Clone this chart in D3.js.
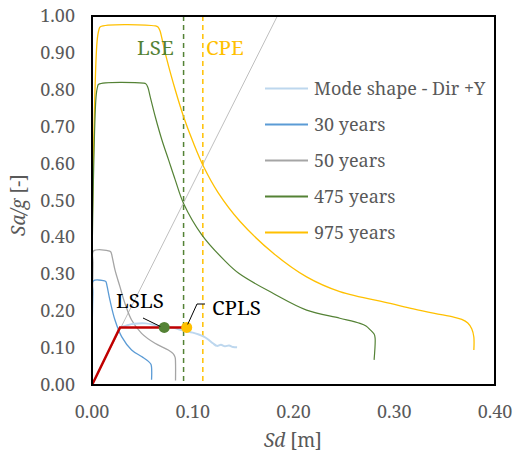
<!DOCTYPE html>
<html>
<head>
<meta charset="utf-8">
<script src="https://cdn.jsdelivr.net/npm/d3@7"></script>
<style>
  body { margin: 0; background: #fff; }
  svg text { font-family: "Noto Serif", "DejaVu Serif", "Liberation Serif", serif; }
</style>
</head>
<body>
<svg id="chart" width="515" height="455"></svg>
<script>
// data: [Sd (m), Sa/g]
const modeShape = [[0.028,0.156],[0.033,0.160],[0.039,0.165],[0.046,0.167],[0.053,0.167],[0.060,0.164],
  [0.066,0.160],[0.073,0.158],[0.081,0.155],[0.090,0.148],[0.100,0.142],[0.106,0.137],[0.111,0.131],
  [0.116,0.122],[0.120,0.113],[0.124,0.106],[0.128,0.109],[0.132,0.105],[0.136,0.107],[0.140,0.103],[0.144,0.102]];
const years30 = [[0,0.11],[0.0008,0.250],[0.0012,0.282],[0.0125,0.282],[0.0138,0.280],[0.0148,0.270],[0.0178,0.230],
  [0.0228,0.176],[0.0294,0.131],[0.0393,0.095],[0.0492,0.077],[0.0560,0.064],[0.0585,0.056],[0.0591,0.048],
  [0.0591,0.014]];
const years50 = [[0,0.14],[0.001,0.330],[0.0015,0.363],[0.0175,0.363],[0.0188,0.360],[0.0200,0.348],[0.0228,0.312],
  [0.0278,0.266],[0.0327,0.221],[0.0393,0.176],[0.0492,0.140],[0.0625,0.113],[0.0757,0.095],[0.0805,0.085],
  [0.0825,0.075],[0.0829,0.060],[0.0829,0.012]];
const years475 = [[0,0.33],[0.004,0.78],[0.0055,0.808],[0.0066,0.815],[0.051,0.818],[0.0535,0.816],[0.0555,0.806],
  [0.0578,0.781],[0.0628,0.727],[0.0694,0.664],[0.076,0.610],[0.0826,0.556],[0.0909,0.492],[0.109,0.407],
  [0.131,0.339],[0.146,0.302],[0.180,0.248],[0.213,0.203],[0.246,0.181],[0.266,0.167],[0.272,0.160],
  [0.276,0.150],[0.280,0.138],[0.281,0.127],[0.280,0.068]];
const years975 = [[0,0.40],[0.005,0.93],[0.0068,0.962],[0.0083,0.971],[0.063,0.973],[0.0655,0.970],[0.0675,0.960],
  [0.069,0.944],[0.0744,0.881],[0.0826,0.800],[0.0909,0.727],[0.1008,0.655],[0.1107,0.592],[0.125,0.522],
  [0.147,0.443],[0.180,0.357],[0.213,0.293],[0.246,0.253],[0.296,0.221],[0.319,0.206],[0.340,0.194],
  [0.359,0.184],[0.367,0.178],[0.373,0.168],[0.377,0.152],[0.379,0.130],[0.379,0.095]];
const periodLine = [[0,0],[0.184,1.0]];
const bilinear = [[0,0],[0.0278,0.156],[0.094,0.156]];
const limitStates = [{name:"LSLS", sd:0.0717, sa:0.156}, {name:"CPLS", sd:0.094, sa:0.156}];
const demandLines = [{name:"LSE", sd:0.0909}, {name:"CPE", sd:0.110}];
const legendNames = ["Mode shape - Dir +Y","30 years","50 years","475 years","975 years"];
const xTicks = [0,0.1,0.2,0.3,0.4];
const yTicks = [0,0.1,0.2,0.3,0.4,0.5,0.6,0.7,0.8,0.9,1.0];

const svg = d3.select("#chart");
const x = d3.scaleLinear().domain([0,0.4]).range([92,495]);
const y = d3.scaleLinear().domain([0,1]).range([385,16]);
const line = d3.line().x(d => x(d[0])).y(d => y(d[1])).curve(d3.curveCatmullRom.alpha(0.5));

const colors = {mode:"#BDD7EE", y30:"#5B9BD5", y50:"#A5A5A5", y475:"#548235", y975:"#FFC000"};

// axes tick labels
svg.append("g").selectAll("text").data(yTicks).join("text")
  .attr("x", 75).attr("y", d => y(d) + 6)
  .attr("text-anchor","end").attr("font-size",18).attr("fill","#595959")
  .text(d => d.toFixed(2));
svg.append("g").selectAll("text").data(xTicks).join("text")
  .attr("x", d => x(d)).attr("y", 418)
  .attr("text-anchor","middle").attr("font-size",18).attr("fill","#595959")
  .text(d => d.toFixed(2));

// axis titles
const xt = svg.append("text").attr("x",293).attr("y",447).attr("text-anchor","middle")
  .attr("font-size",19).attr("fill","#595959");
xt.append("tspan").attr("font-style","italic").text("Sd");
xt.append("tspan").text(" [m]");
const yt = svg.append("text").attr("transform","translate(25,205) rotate(-90)").attr("text-anchor","middle")
  .attr("font-size",19).attr("fill","#595959");
yt.append("tspan").attr("font-style","italic").text("Sa/g");
yt.append("tspan").text(" [-]");

const plot = svg.append("g");
plot.append("defs").append("clipPath").attr("id","clip")
  .append("rect").attr("x",92).attr("y",16).attr("width",403).attr("height",369);
const inner = plot.append("g").attr("clip-path","url(#clip)");

// period line
inner.append("path").datum(periodLine).attr("d",line)
  .attr("fill","none").attr("stroke","#BFBFBF").attr("stroke-width",1);

// demand lines
inner.selectAll(".dl").data(demandLines).join("line")
  .attr("x1", d => x(d.sd)).attr("x2", d => x(d.sd)).attr("y1", y(1)).attr("y2", y(0))
  .attr("stroke", (d,i) => i === 0 ? colors.y475 : colors.y975)
  .attr("stroke-width",1.5).attr("stroke-dasharray","5,4");

const series = [
  {data: years975, c: colors.y975, w: 1.3},
  {data: years475, c: colors.y475, w: 1.2},
  {data: years50, c: colors.y50, w: 1.3},
  {data: years30, c: colors.y30, w: 1.3},
  {data: modeShape, c: colors.mode, w: 2}
];
inner.selectAll(".s").data(series).join("path")
  .attr("d", d => line(d.data)).attr("fill","none").attr("stroke-linejoin","round")
  .attr("stroke", d => d.c).attr("stroke-width", d => d.w);

// bilinear
inner.append("path").datum(bilinear).attr("d", d3.line().x(d => x(d[0])).y(d => y(d[1])))
  .attr("fill","none").attr("stroke","#C00000").attr("stroke-width",2.5);

// limit state points
inner.selectAll(".pt").data(limitStates).join("circle")
  .attr("cx", d => x(d.sd)).attr("cy", d => y(d.sa)).attr("r",5.5)
  .attr("fill", (d,i) => i === 0 ? colors.y475 : colors.y975);

// leader lines + labels
svg.append("path").attr("d", `M143,318 L${x(limitStates[0].sd)-4},${y(limitStates[0].sa)-1}`)
  .attr("stroke","#000").attr("stroke-width",1).attr("fill","none");
svg.append("text").attr("x",116).attr("y",308).attr("font-size",20.5).text("LSLS");
svg.append("path").attr("d", `M205,304 L197,304 L${x(limitStates[1].sd)+1},${y(limitStates[1].sa)-3}`)
  .attr("stroke","#000").attr("stroke-width",1).attr("fill","none");
svg.append("text").attr("x",212).attr("y",315).attr("font-size",20.5).text("CPLS");

// LSE / CPE labels
svg.append("text").attr("x",137).attr("y",55).attr("font-size",20.5).attr("fill",colors.y475).text("LSE");
svg.append("text").attr("x",206).attr("y",55).attr("font-size",20.5).attr("fill",colors.y975).text("CPE");

// plot border
svg.append("rect").attr("x",92).attr("y",16).attr("width",403).attr("height",369)
  .attr("fill","none").attr("stroke","#000").attr("stroke-width",2);

// legend
const legColors = [colors.mode, colors.y30, colors.y50, colors.y475, colors.y975];
const leg = svg.append("g").selectAll("g").data(legendNames).join("g")
  .attr("transform", (d,i) => `translate(265,${88.5 + i*36})`);
leg.append("line").attr("x1",0).attr("x2",43).attr("stroke", (d,i) => legColors[i]).attr("stroke-width",2);
leg.append("text").attr("x",49).attr("y",6).attr("font-size",18).attr("fill","#595959").text(d => d);
</script>
</body>
</html>
